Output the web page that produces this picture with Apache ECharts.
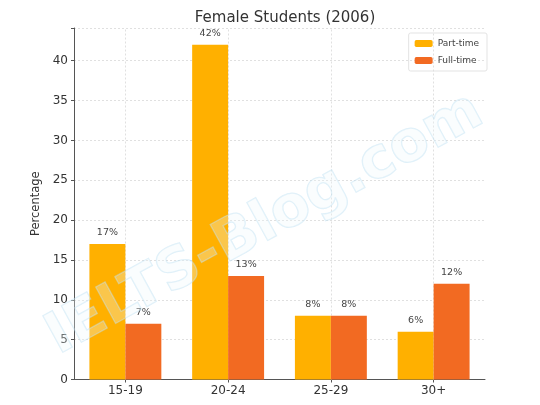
<!DOCTYPE html>
<html>
<head>
<meta charset="utf-8">
<script src="https://cdn.jsdelivr.net/npm/echarts@6/dist/echarts.min.js"></script>
<style>
html,body{margin:0;padding:0;background:#fff;}
#main{width:540px;height:405px;}
</style>
</head>
<body>
<div id="main"></div>
<script>
// data
var ageGroups = ['15-19', '20-24', '25-29', '30+'];
var partTime = [17, 42, 8, 6];
var fullTime = [7, 13, 8, 12];
var yTicks = [0, 5, 10, 15, 20, 25, 30, 35, 40];

var chart = echarts.init(document.getElementById('main'));

var gridLine = {show: true, lineStyle: {color: '#d9d9d9', type: [2, 2], width: 0.8}};
var font = 'DejaVu Sans';

var option = {
    backgroundColor: '#fff',
    animation: false,
    title: {
        text: 'Female Students (2006)',
        left: 280,
        top: 6,
        textAlign: 'center',
        textStyle: {fontFamily: font, fontSize: 15, fontWeight: 'normal', color: '#333'}
    },
    legend: {
        orient: 'vertical',
        right: 53,
        top: 33,
        itemWidth: 18,
        itemHeight: 7,
        itemGap: 8,
        padding: [6, 8, 6, 6],
        borderColor: '#e3e3e3',
        borderWidth: 1,
        borderRadius: 2,
        data: ['Part-time', 'Full-time'],
        textStyle: {fontFamily: font, fontSize: 9, color: '#444'}
    },
    grid: {left: 74, right: 55, top: 28, bottom: 25.5},
    xAxis: {
        type: 'category',
        data: ageGroups,
        axisLine: {lineStyle: {color: '#555', width: 1}},
        axisTick: {show: true, alignWithLabel: true, length: 3, lineStyle: {color: '#555'}},
        axisLabel: {fontFamily: font, fontSize: 12, color: '#333', margin: 5},
        splitLine: {show: false}
    },
    yAxis: {
        type: 'value',
        min: 0,
        max: 44.1,
        interval: 5,
        name: 'Percentage',
        nameLocation: 'middle',
        nameGap: 29,
        nameTextStyle: {fontFamily: font, fontSize: 11.5, color: '#333'},
        axisLine: {show: true, lineStyle: {color: '#555', width: 1}},
        axisTick: {show: true, length: 3, lineStyle: {color: '#555'}},
        axisLabel: {
            fontFamily: font, fontSize: 12, color: '#333', margin: 6,
            formatter: function (v) { return yTicks.indexOf(v) >= 0 ? v : ''; }
        },
        splitLine: gridLine
    },
    graphic: [{
        type: 'text',
        x: 265,
        y: 225,
        rotation: 0.5,
        z: 100,
        silent: true,
        style: {
            text: 'IELTS-Blog.com',
            align: 'center',
            verticalAlign: 'middle',
            font: 'bold 57px "DejaVu Sans"',
            fill: 'rgba(240,248,253,0.3)',
            stroke: 'rgba(185,222,242,0.45)',
            lineWidth: 1.3
        }
    }],
    series: [
        {
            // vertical grid lines at category centres, kept behind the bars
            type: 'line',
            data: [],
            z: 1,
            silent: true,
            markLine: {
                z: 1,
                silent: true,
                symbol: 'none',
                label: {show: false},
                lineStyle: {color: '#d9d9d9', type: [2, 2], width: 0.8},
                data: ageGroups.map(function (g) { return {xAxis: g}; })
            }
        },
        {
            name: 'Part-time',
            type: 'bar',
            z: 2,
            data: partTime,
            barGap: '0%',
            barCategoryGap: '30%',
            itemStyle: {color: '#FFB000'},
            label: {
                show: true, position: 'top', distance: 6,
                fontFamily: font, fontSize: 9.5, color: '#444',
                formatter: '{c}%'
            }
        },
        {
            name: 'Full-time',
            type: 'bar',
            z: 2,
            data: fullTime,
            barGap: '0%',
            barCategoryGap: '30%',
            itemStyle: {color: '#F26A22'},
            label: {
                show: true, position: 'top', distance: 6,
                fontFamily: font, fontSize: 9.5, color: '#444',
                formatter: '{c}%'
            }
        }
    ]
};

chart.setOption(option);
</script>
</body>
</html>
